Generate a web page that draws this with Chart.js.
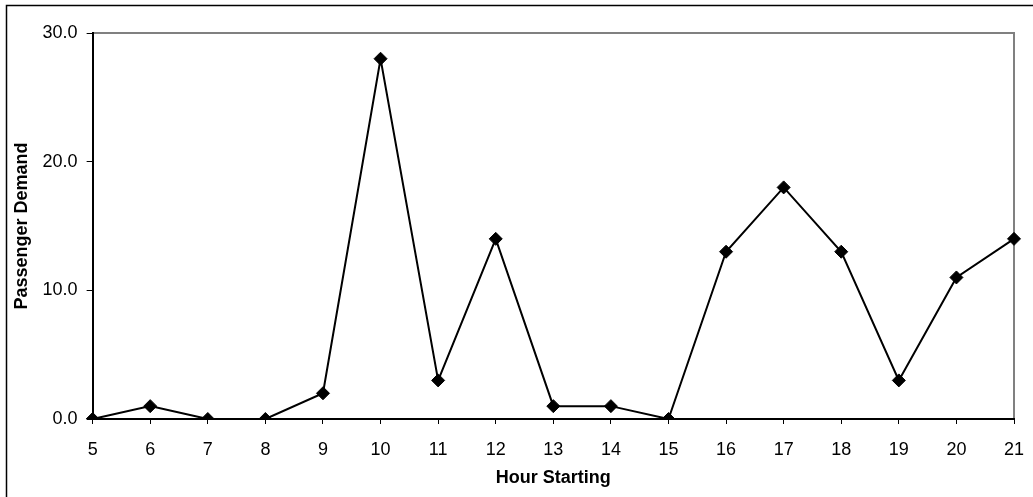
<!DOCTYPE html>
<html>
<head>
<meta charset="utf-8">
<script src="https://cdn.jsdelivr.net/npm/chart.js@4"></script>
<style>
  html, body { margin: 0; padding: 0; background: #fff; }
  #wrap { width: 1033px; height: 497px; position: relative; }
</style>
</head>
<body>
<div id="wrap"><canvas id="demandChart" width="1033" height="497"></canvas></div>
<script>
// Hourly passenger demand
const hours = ['5', '6', '7', '8', '9', '10', '11', '12', '13', '14', '15', '16', '17', '18', '19', '20', '21'];
const demand = [0, 1, 0, 0, 2, 28, 3, 14, 1, 1, 0, 13, 18, 13, 3, 11, 14];
const yTicks = [0, 10, 20, 30];

const FONT = '"Liberation Sans", Arial, sans-serif';

// frame around the whole figure plus the grey top/right edge of the plot area
const frames = {
  id: 'frames',
  beforeDraw(chart) {
    const c = chart.ctx;
    const a = chart.chartArea;
    c.save();
    c.fillStyle = '#fff';
    c.fillRect(0, 0, chart.width, chart.height);
    c.strokeStyle = '#000';
    c.lineWidth = 1.5;
    c.strokeRect(6.5, 5.5, chart.width, chart.height);
    c.strokeStyle = '#808080';
    c.lineWidth = 2;
    c.beginPath();
    c.moveTo(a.left, a.top);
    c.lineTo(a.right, a.top);
    c.lineTo(a.right, a.bottom);
    c.stroke();
    c.restore();
  }
};

const ctx = document.getElementById('demandChart').getContext('2d');
new Chart(ctx, {
  type: 'line',
  data: {
    labels: hours,
    datasets: [{
      label: 'Passenger Demand',
      data: demand,
      borderColor: '#000',
      backgroundColor: '#000',
      borderWidth: 2,
      pointStyle: 'rectRot',
      pointRadius: 6.5,
      pointBorderWidth: 1,
      tension: 0
    }]
  },
  options: {
    responsive: false,
    animation: false,
    layout: { padding: { left: 11, right: 19, top: 33, bottom: 8 } },
    plugins: {
      legend: { display: false },
      tooltip: { enabled: false }
    },
    scales: {
      x: {
        offset: false,
        afterFit(scale) {
          // fixed band for tick labels + title, no extra overflow on the right
          scale.height = 70;
          scale.paddingRight = 0;
        },
        grid: {
          display: true,
          drawOnChartArea: false,
          drawTicks: true,
          tickLength: 5,
          color: '#000'
        },
        border: { color: '#000', width: 2 },
        ticks: {
          color: '#000',
          font: { family: FONT, size: 18 },
          padding: 15,
          maxRotation: 0,
          autoSkip: false
        },
        title: {
          display: true,
          text: 'Hour Starting',
          color: '#000',
          font: { family: FONT, size: 18, weight: 'bold' },
          padding: { top: 0, bottom: 0 }
        }
      },
      y: {
        min: 0,
        max: 30,
        afterBuildTicks(axis) {
          axis.ticks = yTicks.map(v => ({ value: v }));
        },
        grid: {
          display: true,
          drawOnChartArea: false,
          drawTicks: true,
          tickLength: 6,
          color: '#000'
        },
        border: { color: '#000', width: 2 },
        ticks: {
          color: '#000',
          font: { family: FONT, size: 18 },
          padding: 9,
          callback: v => v.toFixed(1)
        },
        title: {
          display: true,
          text: 'Passenger Demand',
          color: '#000',
          font: { family: FONT, size: 18, weight: 'bold' },
          padding: { top: 0, bottom: 1 }
        }
      }
    }
  },
  plugins: [frames]
});
</script>
</body>
</html>
